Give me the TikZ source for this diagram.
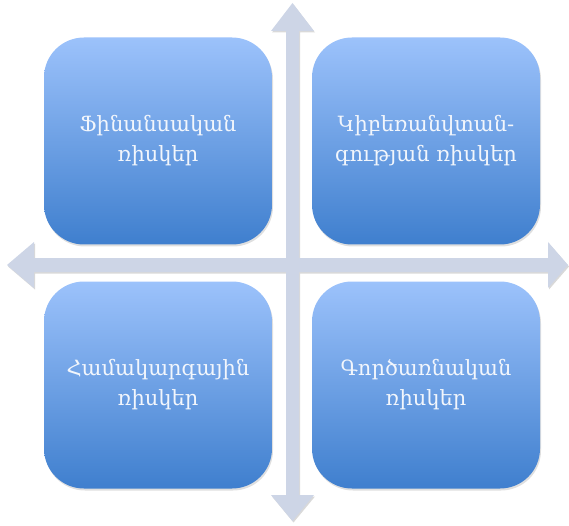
\documentclass[tikz,border=0pt]{standalone}
\usepackage{fontspec}
\setmainfont{DejaVu Serif}
\usetikzlibrary{shadows}
\definecolor{axisfill}{HTML}{CDD5E6}
\definecolor{boxtop}{HTML}{9CC2FB}
\definecolor{boxbottom}{HTML}{3F7FCE}
\definecolor{risktext}{HTML}{F2F6FC}
\tikzset{
  risk/.style={rounded corners=40pt, minimum width=228pt, minimum height=207pt,
    inner sep=0pt, top color=boxtop, bottom color=boxbottom, align=center,
    text=risktext, font=\fontsize{21}{30}\selectfont,
    drop shadow={shadow xshift=1pt, shadow yshift=-2pt, opacity=0.25}},
  axis/.style={fill=axisfill, draw=none,
    drop shadow={shadow xshift=1pt, shadow yshift=-1.5pt, opacity=0.3}}
}
\begin{document}
\begin{tikzpicture}[x=1pt,y=-1pt]
      \useasboundingbox (0,0) rectangle (569,526);
      \path[axis] (292.5,3) -- (314,31) -- (299,31) -- (299,258) -- (548,258)
        -- (548,242) -- (568,265) -- (548,288) -- (548,272) -- (299,272)
        -- (299,495) -- (314,495) -- (292.5,521) -- (271,495) -- (286,495)
        -- (286,272) -- (34,272) -- (34,288) -- (7,265) -- (34,242)
        -- (34,258) -- (286,258) -- (286,31) -- (271,31) -- cycle;
      \path
        (158,141) node[risk] (fin){Ֆինանսական\\ռիսկեր}
        (426,141) node[risk] (cyber){Կիբեռանվտան-\\գության ռիսկեր}
        (158,385) node[risk] (sys){Համակարգային\\ռիսկեր}
        (426,385) node[risk] (oper){Գործառնական\\ռիսկեր};
    \end{tikzpicture}
\end{document}
